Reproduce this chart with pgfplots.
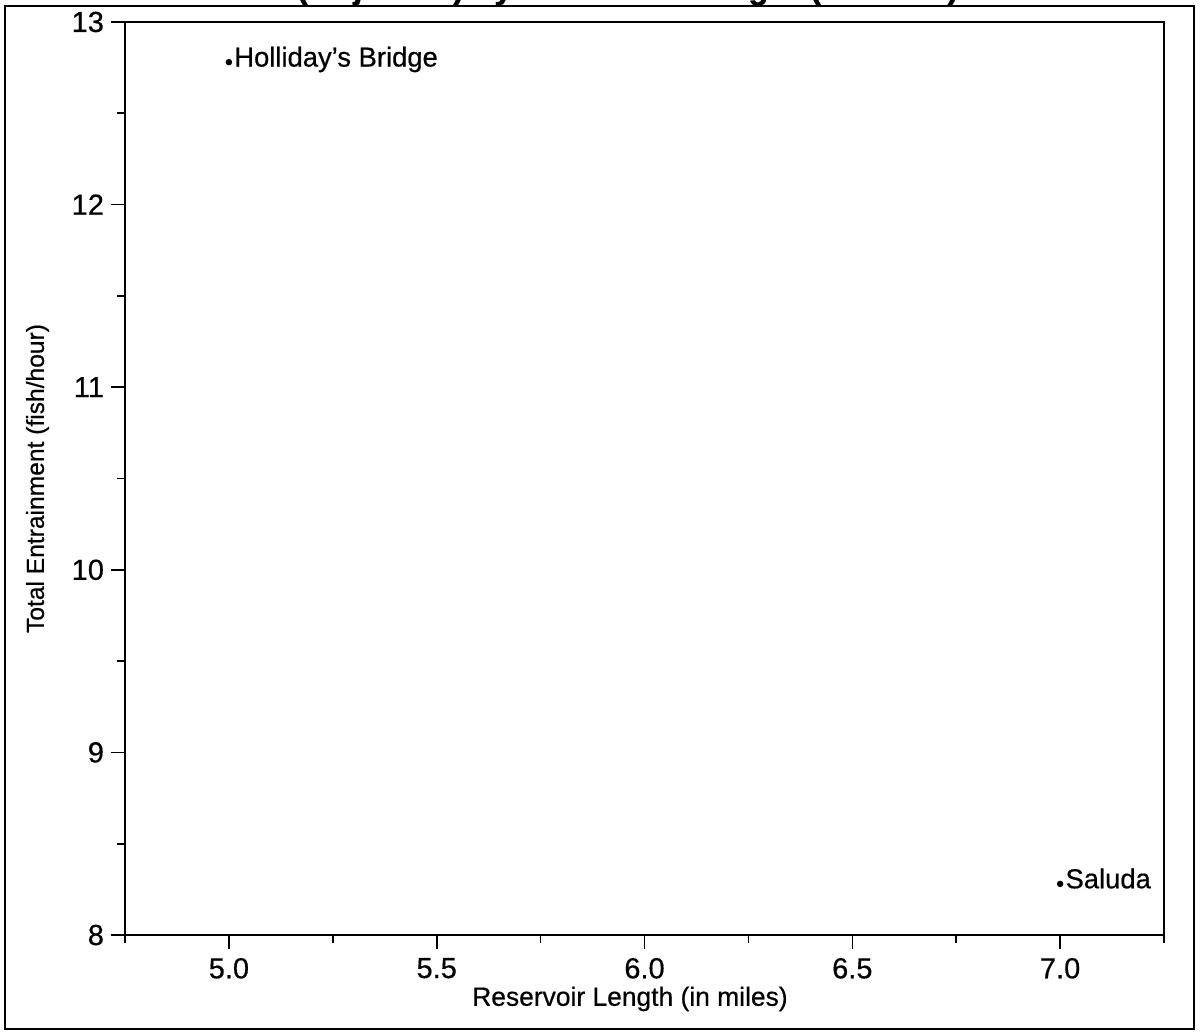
\documentclass[border=0pt]{standalone}
\usepackage{fontspec}
\setmainfont{Liberation Sans}[FakeBold=0.5]
\usepackage{graphicx}
\usepackage{pgfplots}
\pgfplotsset{compat=1.18}
\begin{document}
\begin{tikzpicture}
\begin{axis}[
  at={(0,0)}, anchor=south west,
  scale only axis,
  width=519.5bp, height=456.5bp,
  xmin=4.75, xmax=7.25, ymin=8, ymax=13,
  xtick={5,5.5,6,6.5,7},
  xticklabels={5.0,5.5,6.0,6.5,7.0},
  minor xtick={4.75,5.25,5.75,6.25,6.75,7.25},
  ytick={8,9,10,11,12,13},
  minor ytick={8.5,9.5,10.5,11.5,12.5},
  xtick pos=bottom, ytick pos=left,
  tick align=outside,
  major tick length=7bp, minor tick length=4bp,
  every tick/.style={black, line width=0.8bp},
  axis line style={black, line width=1.1bp},
  /pgf/number format/assume math mode=true,
  ticklabel style={font=\fontsize{14.5bp}{16bp}\selectfont},
  xticklabel style={yshift=-1bp},
  label style={font=\fontsize{13.2bp}{15bp}\selectfont},
  xlabel={Reservoir Length (in miles)},
  ylabel={Total Entrainment (fish/hour)},
  xlabel style={at={(axis description cs:0.486,-0.07)}, anchor=center},
  ylabel style={at={(axis description cs:-0.0842,0.5)}, anchor=center, font=\fontsize{12.3bp}{15bp}\selectfont},
  clip=false,
]
\addplot[only marks, mark=*, mark size=1.4bp, black,
  nodes near coords, point meta=explicit symbolic,
  nodes near coords style={anchor=base west, inner sep=0pt, xshift=2.5bp, yshift=-2.2bp, font=\fontsize{13.7bp}{15bp}\selectfont}]
  table[x=x, y=y, meta=label, col sep=comma, row sep=\\] {
x,y,label\\
5.0,12.78,Holliday's Bridge\\
7.0,8.28,Saluda\\
};
\end{axis}
\begin{scope}[x=0.5bp, y=-0.5bp, shift={(-125,-935)}]
  \draw[line width=1bp] (5,6) rectangle (1194,1029);
  \begin{scope}
    \clip (0,-20) rectangle (1201,5.5);
    \node[anchor=base west, inner sep=0pt] at (2,-1.5) {\resizebox{478bp}{!}{\bfseries Total Entrainment (Adjusted) by Reservoir Length (in miles)}};
  \end{scope}
  \pgfresetboundingbox
  \useasboundingbox (0,0) rectangle (1201,1032);
\end{scope}
\end{tikzpicture}
\end{document}
